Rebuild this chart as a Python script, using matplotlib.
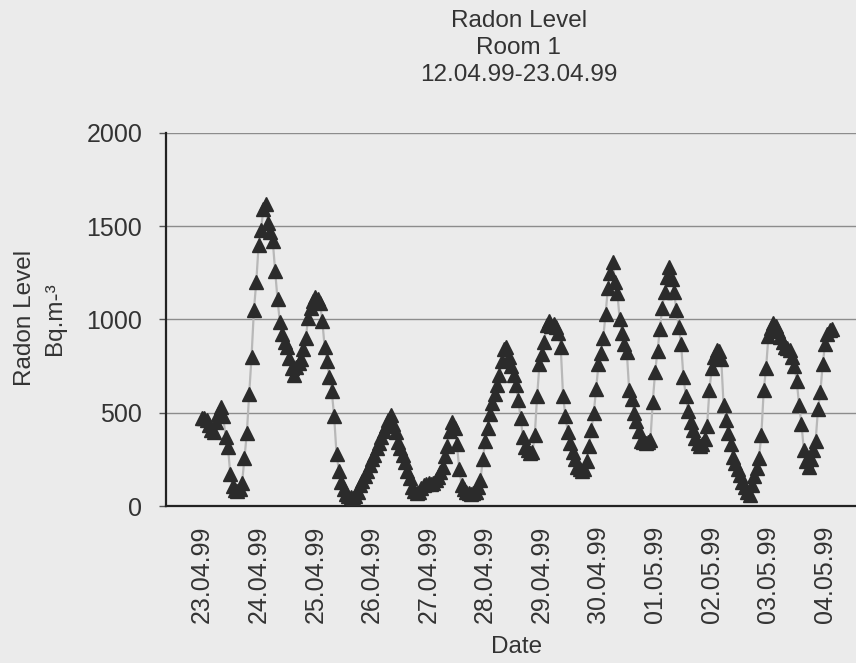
import matplotlib.pyplot as plt
import numpy as np

plt.rcParams['font.family'] = ['Liberation Sans', 'DejaVu Sans']

# hourly readings, starting 23.04.99 00:00
radon = [
    470, 470, 460, 435, 410, 395, 450, 495, 530, 480, 370, 317, 170, 105, 85, 80,
    90, 125, 260, 390, 600, 800, 1050, 1200, 1400, 1480, 1590, 1620, 1520, 1470, 1420, 1260,
    1110, 985, 920, 880, 850, 795, 740, 700, 745, 765, 790, 840, 900, 1010, 1060, 1100,
    1120, 1110, 1090, 990, 850, 775, 690, 615, 480, 280, 190, 130, 90, 65, 55, 50,
    45, 55, 75, 110, 135, 160, 190, 220, 250, 275, 310, 340, 370, 400, 430, 460,
    490, 440, 395, 345, 310, 275, 235, 190, 150, 100, 80, 70, 75, 95, 110, 120,
    125, 120, 125, 140, 155, 180, 210, 270, 320, 400, 450, 420, 330, 200, 110, 90,
    75, 70, 65, 70, 75, 100, 140, 250, 350, 420, 495, 550, 600, 650, 700, 780,
    840, 850, 800, 750, 700, 650, 570, 470, 370, 315, 300, 285, 290, 380, 590, 760,
    815, 880, 970, 990, 965, 975, 960, 930, 850, 590, 480, 395, 340, 290, 250, 210,
    200, 185, 200, 240, 320, 410, 500, 630, 760, 820, 900, 1030, 1170, 1250, 1310, 1200,
    1140, 1000, 925, 870, 825, 620, 575, 500, 455, 400, 350, 345, 340, 345, 355, 560,
    720, 830, 950, 1060, 1150, 1230, 1280, 1215, 1150, 1050, 960, 870, 690, 590, 510, 450,
    410, 365, 340, 320, 330, 360, 430, 620, 740, 800, 835, 830, 790, 540, 460, 390,
    330, 265, 230, 200, 165, 130, 100, 75, 60, 110, 160, 205, 260, 380, 620, 740,
    910, 955, 980, 965, 940, 905, 880, 850, 845, 835, 800, 750, 670, 540, 440, 300,
    240, 210, 250, 300, 350, 520, 610, 760, 870, 920, 945, 950,
]
date_labels = ['23.04.99', '24.04.99', '25.04.99', '26.04.99', '27.04.99', '28.04.99',
               '29.04.99', '30.04.99', '01.05.99', '02.05.99', '03.05.99', '04.05.99']
y_ticks = [0, 500, 1000, 1500, 2000]

bg = '#ebebeb'
txt = '#333333'
fig = plt.figure(figsize=(8.56, 6.63), dpi=100, facecolor=bg)
ax = fig.add_axes([0.1939, 0.2368, 0.8061, 0.5626], facecolor=bg)

hours = np.arange(len(radon))
ax.plot(hours, radon, color='#b8b8b8', lw=1.6, zorder=2)
ax.plot(hours, radon, ls='none', marker='^', ms=10, color='#2b2b2b', zorder=3)

ax.set_xlim(-15.25, 277.1)
ax.set_ylim(0, 2000)
ax.set_xticks(np.arange(len(date_labels)) * 24)
ax.set_xticklabels(date_labels, rotation=90, fontsize=18, color=txt)
ax.set_yticks(y_ticks)
ax.set_yticklabels([str(v) for v in y_ticks], fontsize=18, color=txt)
ax.tick_params(axis='x', length=0, pad=14)
ax.tick_params(axis='y', length=5, width=1, color='#555555', pad=12)
ax.grid(axis='y', color='#8c8c8c', lw=1)
ax.set_axisbelow(True)

for side in ['top', 'right']:
    ax.spines[side].set_visible(False)
for side in ['left', 'bottom']:
    ax.spines[side].set_color('#222222')
    ax.spines[side].set_linewidth(1.6)

fig.text(0.606, 0.985, 'Radon Level\nRoom 1\n12.04.99-23.04.99', ha='center', va='top',
         fontsize=17.5, color=txt, linespacing=1.3)
fig.text(0.603, 0.008, 'Date', ha='center', va='bottom', fontsize=17.5, color=txt)
fig.text(0.047, 0.52, 'Radon Level\nBq.m-³', rotation=90, ha='center', va='center',
         fontsize=17.5, color=txt, linespacing=1.45)

fig.savefig('out.png', dpi=100, facecolor=bg)
